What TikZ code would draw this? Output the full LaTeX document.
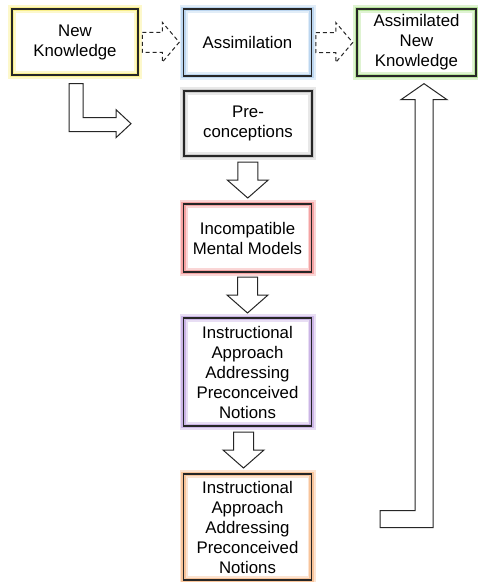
\documentclass[tikz,border=0pt]{standalone}
\usepackage{fontspec}
\setmainfont{Liberation Sans}
\usetikzlibrary{calc}
\definecolor{glowyellow}{HTML}{FAF08C}
\definecolor{glowblue}{HTML}{BCD6F0}
\definecolor{glowgreen}{HTML}{B8E59C}
\definecolor{glowgray}{HTML}{CCCCCC}
\definecolor{glowred}{HTML}{F5A3A3}
\definecolor{glowpurple}{HTML}{CBB5E6}
\definecolor{gloworange}{HTML}{F8C49A}
\definecolor{edge}{HTML}{262626}
\begin{document}
\begin{tikzpicture}[x=1pt,y=-1pt,
  box/.style={draw=edge, line width=1.3pt, rectangle,
    minimum width=128pt, minimum height=67pt, align=center, inner sep=2pt,
    font=\fontsize{16.8}{20}\selectfont},
  glow/.style={preaction={fill=white},
    preaction={draw=#1!45, line width=8pt},
    preaction={draw=#1, line width=4.6pt}},
  blockline/.style={draw=edge, line width=1pt, fill=white, line join=miter},
  dashline/.style={blockline, dashed, dash pattern=on 4pt off 3pt},
  downblock/.pic={\path[blockline] (-10,-18) -- (10,-18) -- (10,0) -- (20.5,0) -- (0,18) -- (-20.5,0) -- (-10,0) -- cycle;},
  rightdash/.pic={\path[dashline] (-18.5,-10) -- (1.5,-10) -- (1.5,-20) -- (18.5,0) -- (1.5,20) -- (1.5,10) -- (-18.5,10) -- cycle;}
]
\useasboundingbox (0,0) rectangle (478,582);

% top row
\node[box, glow=glowyellow, minimum width=126pt, minimum height=66pt] (nk) at (75,42) {New\\Knowledge};
\node[box, glow=glowblue] (asm) at (247.5,42.5) {Assimilation};
\node[box, glow=glowgreen, minimum width=119pt] (anm) at (416.5,42.5) {Assimilated\\New\\Knowledge};

% central column
\node[box, glow=glowgray, minimum height=65pt] (pre) at (248,123.5) {Pre-\\conceptions};
\node[box, glow=glowred, minimum height=68pt] (inc) at (247.5,238) {Incompatible\\Mental Models};
\node[box, glow=glowpurple, minimum height=108pt] (ins1) at (247.5,372) {Instructional\\Approach\\Addressing\\Preconceived\\Notions};
\node[box, glow=gloworange, minimum height=106pt] (ins2) at (247.5,527) {Instructional\\Approach\\Addressing\\Preconceived\\Notions};

% dashed block arrows along the top row
\pic at ($(nk.east)!0.5!(asm.west)$) {rightdash};
\pic at ($(asm.east)!0.5!(anm.west)$) {rightdash};

% block arrows down the column
\pic at ($(pre.south)!0.5!(inc.north)$) {downblock};
\pic at ($(inc.south)!0.5!(ins1.north)$) {downblock};
\pic[xshift=-4pt] at ($(ins1.south)!0.5!(ins2.north)$) {downblock};

% bent arrow below New Knowledge
\path[blockline] ([shift={(-6,8)}]nk.south) -- ++(14,0) -- ++(0,34) -- ++(33,0)
  -- ++(0,-8) -- ++(15,14) -- ++(-15,14) -- ++(0,-6) -- ++(-47,0) -- cycle;

% long return arrow up to Assimilated New Knowledge
\coordinate (tip) at ([shift={(7.5,7)}]anm.south);
\path[blockline] (tip) -- ++(23,16) -- ++(-14,0) -- ++(0,428) -- ++(-53,0)
  -- ++(0,-17) -- ++(35,0) -- ++(0,-411) -- ++(-14,0) -- cycle;
\end{tikzpicture}
\end{document}
